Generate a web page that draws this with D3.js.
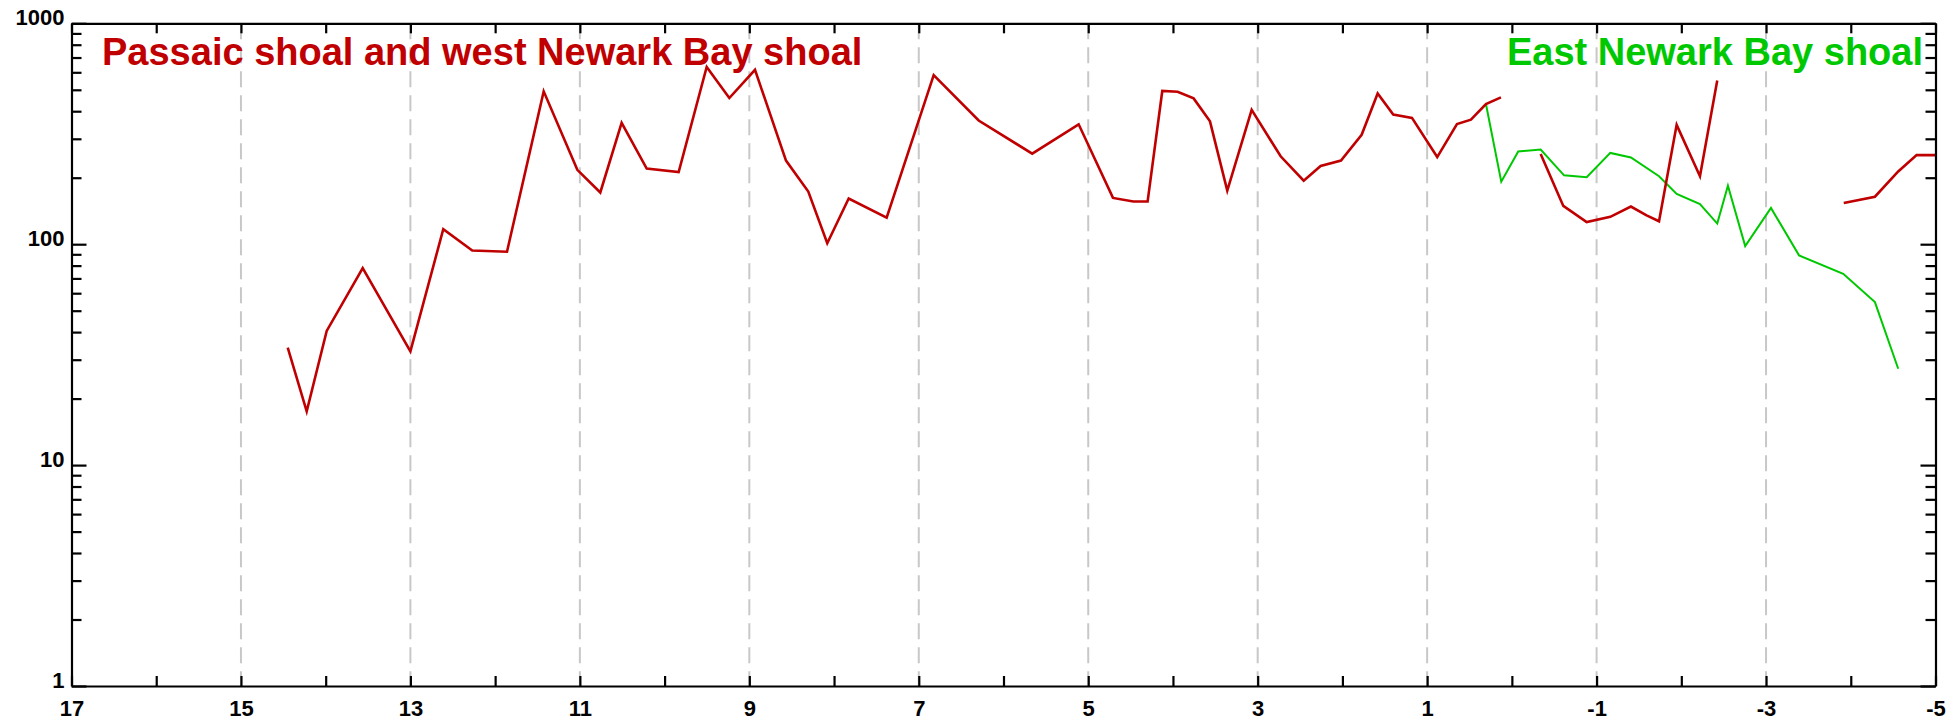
<!DOCTYPE html>
<html>
<head>
<meta charset="utf-8">
<script src="https://cdn.jsdelivr.net/npm/d3@7"></script>
<style>
  html, body { margin: 0; padding: 0; background: #ffffff; }
  svg { display: block; }
</style>
</head>
<body>
<svg id="chart" width="1955" height="723"></svg>
<script>
// ---- data ----
const xTicks = d3.range(17, -6, -1);
const gridX = [15, 13, 11, 9, 7, 5, 3, 1, -1, -3];
const yMajor = [1, 10, 100, 1000];

const redX1 = [14.448,14.224,13.988,13.563,13.0,12.612,12.27,11.86,11.427,11.03,10.759,10.507,10.211,9.834,9.503,9.236,8.933,8.567,8.304,8.08,7.827,7.379,6.824,6.293,5.661,5.113,4.708,4.468,4.299,4.126,3.945,3.756,3.563,3.359,3.071,2.729,2.457,2.257,2.017,1.773,1.584,1.40,1.179,0.881,0.648,0.483,0.306,0.129];
const redY1 = [34.0,17.5,40.5,77.9,32.7,117,93.6,92.4,492,217,171.5,354,220,212,634,459,616,239,173,101,161,132,583,363,257,349,162,156,156,494,490,457,360,175,406,250,194,226,239,313,481,386,373,248,350,366,431,462];

const redX2 = [-0.34,-0.607,-0.883,-1.162,-1.405,-1.59,-1.737,-1.945,-2.22,-2.424];
const redY2 = [256,149,126,133,148,135,127,347,203,551];

const redX3 = [-3.917,-4.285,-4.56,-4.777,-5.0];
const redY3 = [153.5,164,213.5,253,253];

const greenX = [0.306,0.125,-0.075,-0.34,-0.616,-0.883,-1.162,-1.405,-1.737,-1.945,-2.22,-2.424,-2.55,-2.754,-3.058,-3.389,-3.911,-4.285,-4.56];
const greenY = [431,192,263,268,205,201,259,247,203,169,152,124,184,98,146,89,73.5,54.7,27.3];

const redLabel = "Passaic shoal and west Newark Bay shoal";
const greenLabel = "East Newark Bay shoal";

// ---- layout ----
const L = 71.5, R = 1935.5, T = 23.3, B = 686;
const RED = "#c00000", GREEN = "#00c800";
const FONT = "'Liberation Sans', Arial, Helvetica, sans-serif";

const svg = d3.select("#chart");
svg.append("rect").attr("width", 1955).attr("height", 723).attr("fill", "#fff");

const x = d3.scaleLinear().domain([17, -5]).range([L, R]);
const y = d3.scaleLog().domain([1, 1000]).range([B, T]);

// grid lines
svg.append("g").selectAll("line").data(gridX).join("line")
  .attr("x1", d => x(d)).attr("x2", d => x(d))
  .attr("y1", T).attr("y2", B)
  .attr("stroke", "#c8c8c8").attr("stroke-width", 2)
  .attr("stroke-dasharray", "16,8");

// lines
const line = d3.line().x(d => x(d[0])).y(d => y(d[1]));
const zip = (a, b) => a.map((v, i) => [v, b[i]]);

svg.append("path").datum(zip(greenX, greenY))
  .attr("d", line).attr("fill", "none").attr("stroke", GREEN)
  .attr("stroke-width", 2).attr("stroke-linejoin", "miter");

[[redX1, redY1], [redX2, redY2], [redX3, redY3]].forEach(([a, b]) => {
  svg.append("path").datum(zip(a, b))
    .attr("d", line).attr("fill", "none").attr("stroke", RED)
    .attr("stroke-width", 2.6).attr("stroke-linejoin", "miter");
});

// minor/major y tick values
const yTickVals = [];
[1, 10, 100].forEach(p => { for (let k = 1; k < 10; k++) yTickVals.push(p * k); });
yTickVals.push(1000);
const isMajor = v => yMajor.includes(v);

function styleAxis(g) {
  g.selectAll("path.domain").attr("stroke", "#000").attr("stroke-width", 2.2);
  g.selectAll(".tick line").attr("stroke", "#000").attr("stroke-width", 2.2);
  g.attr("font-family", FONT).attr("font-weight", "bold");
}

// bottom axis
const gB = svg.append("g").attr("transform", `translate(0,${B})`)
  .call(d3.axisBottom(x).tickValues(xTicks).tickSize(-10).tickSizeOuter(0)
    .tickFormat(d => Math.abs(d % 2) === 1 ? String(d) : ""));
styleAxis(gB);
gB.selectAll(".tick text").attr("y", 30).attr("dy", 0)
  .attr("font-size", 22).attr("fill", "#000");

// top axis
const gT = svg.append("g").attr("transform", `translate(0,${T})`)
  .call(d3.axisTop(x).tickValues(xTicks).tickSize(-10).tickSizeOuter(0).tickFormat(""));
styleAxis(gT);

// left axis
const gL = svg.append("g").attr("transform", `translate(${L},0)`)
  .call(d3.axisLeft(y).tickValues(yTickVals).tickSize(-10).tickSizeOuter(0)
    .tickFormat(d => isMajor(d) ? String(d) : ""));
styleAxis(gL);
gL.selectAll(".tick line").attr("x2", d => isMajor(d) ? 15 : 10);
gL.selectAll(".tick text").attr("x", -7).attr("dy", 1)
  .attr("font-size", 22).attr("fill", "#000");

// right axis
const gR = svg.append("g").attr("transform", `translate(${R},0)`)
  .call(d3.axisRight(y).tickValues(yTickVals).tickSize(-10).tickSizeOuter(0).tickFormat(""));
styleAxis(gR);
gR.selectAll(".tick line").attr("x2", d => isMajor(d) ? -15 : -10);

// series labels
svg.append("text").attr("x", 102).attr("y", 65)
  .attr("font-family", FONT).attr("font-weight", "bold").attr("font-size", 38)
  .attr("fill", RED).text(redLabel);
svg.append("text").attr("x", 1923).attr("y", 65).attr("text-anchor", "end")
  .attr("font-family", FONT).attr("font-weight", "bold").attr("font-size", 38)
  .attr("fill", GREEN).text(greenLabel);
</script>
</body>
</html>
